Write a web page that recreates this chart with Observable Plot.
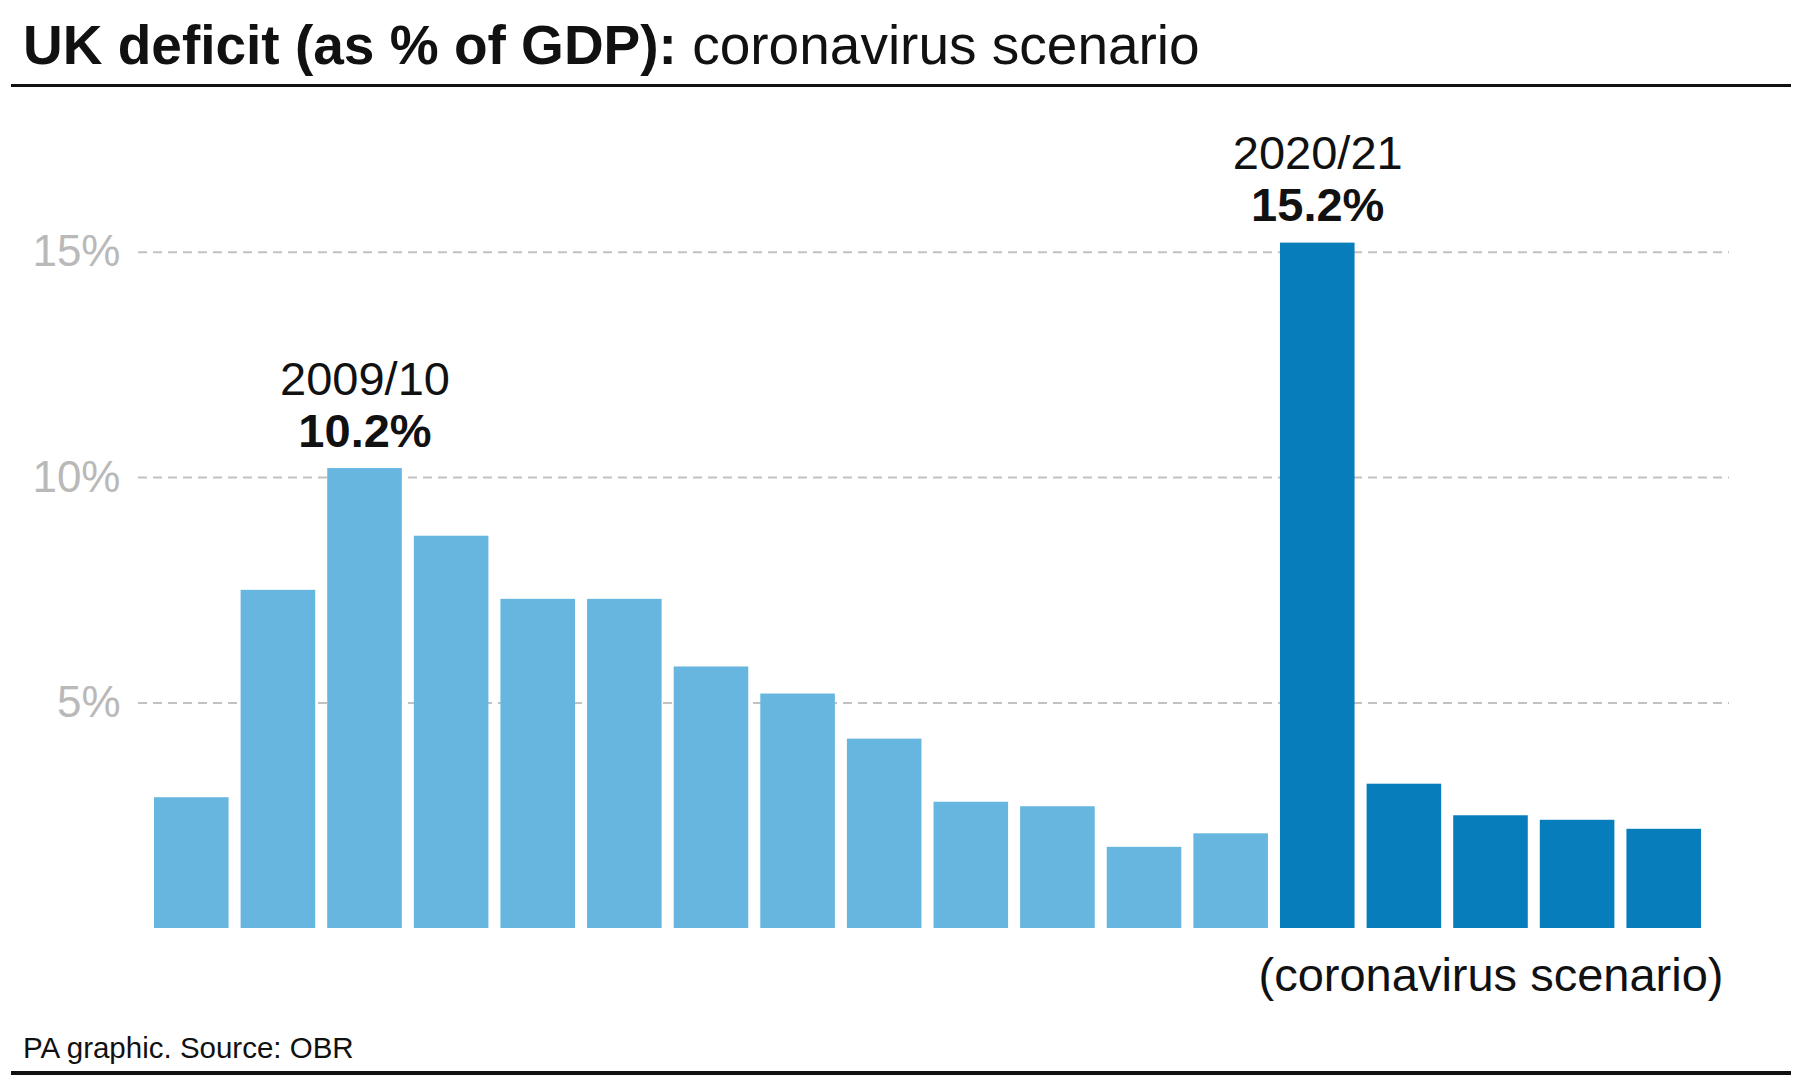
<!DOCTYPE html>
<html>
<head>
<meta charset="utf-8">
<script src="https://cdn.jsdelivr.net/npm/d3@7"></script>
<script src="https://cdn.jsdelivr.net/npm/@observablehq/plot@0.6"></script>
<style>
  html, body { margin: 0; padding: 0; background: #fff; }
  #wrap { position: relative; width: 1800px; height: 1080px; overflow: hidden; font-family: "Liberation Sans", Arial, sans-serif; color: #111; }
  #title { position: absolute; left: 23px; top: 18px; font-size: 55px; line-height: 55px; white-space: nowrap; }
  #title b { font-weight: 700; }
  #rule1 { position: absolute; left: 11px; top: 84px; width: 1780px; height: 3px; background: #111; }
  #chart { position: absolute; left: 0; top: 90px; }
  #caption { position: absolute; left: 23px; top: 1033px; font-size: 29.5px; line-height: 29.5px; white-space: nowrap; }
  #rule2 { position: absolute; left: 11px; top: 1071px; width: 1780px; height: 4px; background: #111; }
</style>
</head>
<body>
<div id="wrap">
  <div id="title"><b>UK deficit (as % of GDP):</b> coronavirus scenario</div>
  <div id="rule1"></div>
  <div id="chart"></div>
  <div id="caption">PA graphic. Source: OBR</div>
  <div id="rule2"></div>
</div>
<script>
// ---- data ----
const years = ["2007/08","2008/09","2009/10","2010/11","2011/12","2012/13","2013/14","2014/15","2015/16","2016/17","2017/18","2018/19","2019/20","2020/21","2021/22","2022/23","2023/24","2024/25"];
const deficit = [2.9, 7.5, 10.2, 8.7, 7.3, 7.3, 5.8, 5.2, 4.2, 2.8, 2.7, 1.8, 2.1, 15.2, 3.2, 2.5, 2.4, 2.2];
const scenarioYears = ["2020/21","2021/22","2022/23","2023/24","2024/25"];
const yTicks = [5, 10, 15];
const highlights = ["2009/10", "2020/21"];
const scenarioLabel = "(coronavirus scenario)";

const data = years.map((y, i) => ({year: y, value: deficit[i], scenario: scenarioYears.includes(y)}));
const hl = data.filter(d => highlights.includes(d.year));
const midScenario = scenarioYears[Math.floor(scenarioYears.length / 2)];

const W = 1800, H = 930;
const y0 = 838, pxPerPct = 45.09;

const chart = Plot.plot({
  width: W,
  height: H,
  marginLeft: 138,
  marginRight: 71,
  marginTop: 0,
  marginBottom: 0,
  style: {fontFamily: "'Liberation Sans', Arial, sans-serif", background: "transparent", overflow: "visible"},
  x: {domain: years, range: [154, 1701], paddingInner: 0.139, paddingOuter: 0, round: false, axis: null},
  y: {domain: [0, 16], range: [y0, y0 - 16 * pxPerPct], axis: null},
  marks: [
    Plot.ruleY(yTicks, {stroke: "#c2c2c2", strokeWidth: 2, strokeDasharray: "9,6"}),
    Plot.axisY({ticks: yTicks, tickSize: 0, tickPadding: 18, tickFormat: d => d + "%", fontSize: 44, color: "#b9b9b9", label: null}),
    Plot.barY(data, {x: "year", y: "value", fill: d => d.scenario ? "#087dbb" : "#66b6e0"}),
    Plot.text(hl, {x: "year", y: "value", text: "year", dy: -89, fontSize: 47, fill: "#111", lineAnchor: "middle"}),
    Plot.text(hl, {x: "year", y: "value", text: d => d.value.toFixed(1) + "%", dy: -37, fontSize: 47, fontWeight: "bold", fill: "#111", lineAnchor: "middle"}),
    Plot.text([{year: midScenario}], {x: "year", y: 0, text: () => scenarioLabel, dy: 47, fontSize: 47, fill: "#111", lineAnchor: "middle"})
  ]
});
document.getElementById("chart").appendChild(chart);
</script>
</body>
</html>
